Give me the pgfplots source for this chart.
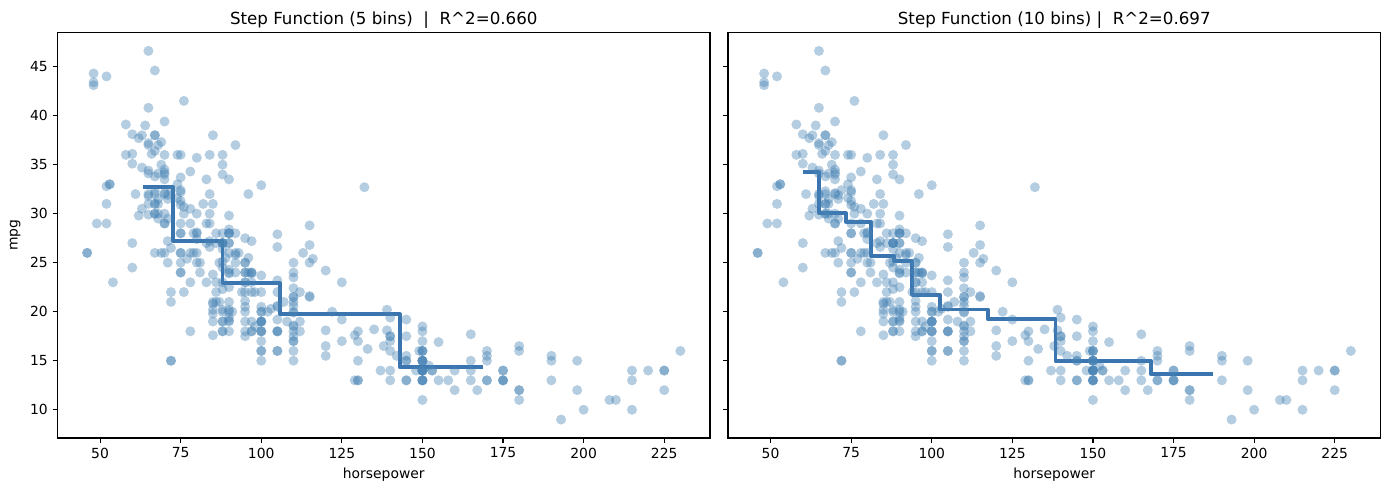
\documentclass[border=0pt]{standalone}
\usepackage{fontspec}
\setmainfont{DejaVu Sans}
\usepackage{pgfplots}
\usepackage{pgfplotstable}
\pgfplotsset{compat=1.18}
\definecolor{ptc}{RGB}{70,130,180}
\definecolor{lnc}{RGB}{58,117,175}

\pgfplotstableread[row sep=\\]{
hp mpg\\
130 18\\ 165 15\\ 150 18\\ 150 16\\ 140 17\\ 198 15\\ 220 14\\ 215 14\\ 225 14\\ 190 15\\
170 15\\ 160 14\\ 150 15\\ 225 14\\ 95 24\\ 95 22\\ 97 18\\ 85 21\\ 88 27\\ 46 26\\
87 25\\ 90 24\\ 95 25\\ 113 26\\ 90 21\\ 215 10\\ 200 10\\ 210 11\\ 193 9\\ 88 27\\
90 28\\ 95 25\\ 100 19\\ 105 16\\ 100 17\\ 88 19\\ 100 18\\ 165 14\\ 175 14\\ 153 14\\
150 14\\ 180 12\\ 170 13\\ 175 13\\ 110 18\\ 72 22\\ 100 19\\ 88 18\\ 86 23\\ 90 28\\
70 30\\ 76 30\\ 65 31\\ 69 35\\ 60 27\\ 70 26\\ 95 24\\ 80 25\\ 54 23\\ 90 20\\
86 21\\ 165 13\\ 175 14\\ 150 15\\ 153 14\\ 150 17\\ 208 11\\ 155 13\\ 160 12\\ 190 13\\
97 19\\ 150 15\\ 130 13\\ 140 13\\ 150 14\\ 112 18\\ 76 22\\ 87 21\\ 69 26\\ 86 22\\
92 28\\ 97 23\\ 80 28\\ 88 27\\ 175 13\\ 150 14\\ 145 13\\ 137 14\\ 150 15\\ 198 12\\
150 13\\ 158 13\\ 150 14\\ 215 13\\ 225 12\\ 175 13\\ 105 18\\ 100 16\\ 100 18\\ 88 18\\
95 23\\ 46 26\\ 150 11\\ 167 12\\ 170 13\\ 180 12\\ 100 18\\ 88 20\\ 72 21\\ 94 22\\
90 18\\ 85 19\\ 107 21\\ 90 26\\ 145 15\\ 230 16\\ 49 29\\ 75 24\\ 91 20\\ 112 19\\
150 15\\ 110 24\\ 122 20\\ 180 11\\ 95 20\\ 100 19\\ 100 15\\ 67 31\\ 80 26\\ 65 32\\
75 25\\ 100 16\\ 110 16\\ 105 18\\ 140 16\\ 150 13\\ 150 14\\ 140 14\\ 150 14\\ 83 29\\
67 26\\ 78 26\\ 52 31\\ 61 32\\ 75 28\\ 75 24\\ 75 26\\ 97 24\\ 93 26\\ 67 31\\
95 19\\ 105 18\\ 72 15\\ 72 15\\ 170 16\\ 145 15\\ 150 16\\ 148 14\\ 110 17\\ 105 16\\
110 15\\ 95 18\\ 110 21\\ 110 20\\ 129 13\\ 75 29\\ 83 23\\ 100 20\\ 78 23\\ 96 24\\
71 25\\ 97 24\\ 97 18\\ 70 29\\ 90 19\\ 95 23\\ 88 23\\ 98 22\\ 115 25\\ 53 33\\
86 28\\ 81 25\\ 92 25\\ 79 26\\ 83 27\\ 140 17.5\\ 150 16\\ 120 15.5\\ 152 14.5\\ 100 22\\
105 22\\ 81 24\\ 90 22.5\\ 52 29\\ 60 24.5\\ 70 29\\ 53 33\\ 100 20\\ 78 18\\ 110 18.5\\
95 17.5\\ 71 29.5\\ 70 32\\ 75 28\\ 72 26.5\\ 102 20\\ 150 13\\ 88 19\\ 108 19\\ 120 16.5\\
180 16.5\\ 145 13\\ 130 13\\ 150 13\\ 68 31.5\\ 80 30\\ 58 36\\ 96 25.5\\ 70 33.5\\ 145 17.5\\
110 17\\ 145 15.5\\ 130 15\\ 110 17.5\\ 105 20.5\\ 100 19\\ 98 18.5\\ 180 16\\ 170 15.5\\ 190 15.5\\
149 16\\ 78 29\\ 88 24.5\\ 75 26\\ 89 25.5\\ 63 30.5\\ 83 33.5\\ 67 30\\ 78 30.5\\ 97 22\\
110 21.5\\ 110 21.5\\ 48 43.1\\ 66 36.1\\ 52 32.8\\ 70 39.4\\ 60 36.1\\ 110 19.9\\ 140 19.4\\ 139 20.2\\
105 19.2\\ 95 20.5\\ 85 20.2\\ 88 25.1\\ 100 20.5\\ 90 19.4\\ 105 20.6\\ 85 20.8\\ 110 18.6\\ 120 18.1\\
145 19.2\\ 165 17.7\\ 139 18.1\\ 140 17.5\\ 68 30\\ 95 27.5\\ 97 27.2\\ 75 30.9\\ 95 21.1\\ 105 23.2\\
85 23.8\\ 97 23.9\\ 103 20.3\\ 125 17\\ 115 21.6\\ 133 16.2\\ 71 31.5\\ 68 29.5\\ 115 21.5\\ 85 19.8\\
88 22.3\\ 90 20.2\\ 110 20.6\\ 130 17\\ 129 17.6\\ 138 16.5\\ 135 18.2\\ 155 16.9\\ 142 15.5\\ 125 19.2\\
150 18.5\\ 71 31.9\\ 65 34.1\\ 80 35.7\\ 80 27.4\\ 77 25.4\\ 125 23\\ 71 27.2\\ 90 23.9\\ 70 34.2\\
70 34.5\\ 65 31.8\\ 69 37.3\\ 90 28.4\\ 115 28.8\\ 115 26.8\\ 90 33.5\\ 76 41.5\\ 60 38.1\\ 70 32.1\\
65 37.2\\ 90 28\\ 88 26.4\\ 90 24.3\\ 90 19.1\\ 78 34.3\\ 90 29.8\\ 75 31.3\\ 92 37\\ 75 32.2\\
65 46.6\\ 105 27.9\\ 65 40.8\\ 48 44.3\\ 48 43.4\\ 67 36.4\\ 67 30\\ 67 44.6\\ 67 33.8\\ 62 29.8\\
132 32.7\\ 100 23.7\\ 88 35\\ 72 32.4\\ 84 27.2\\ 84 26.6\\ 92 25.8\\ 110 23.5\\ 84 30\\ 58 39.1\\
64 39\\ 60 35.1\\ 67 32.3\\ 65 37\\ 62 37.7\\ 68 34.1\\ 63 34.7\\ 65 34.4\\ 65 29.9\\ 74 33\\
75 33.7\\ 75 32.4\\ 100 32.9\\ 74 31.6\\ 80 28.1\\ 76 30.7\\ 116 25.4\\ 120 24.2\\ 110 22.4\\ 105 26.6\\
88 20.2\\ 85 17.6\\ 88 28\\ 88 27\\ 88 34\\ 85 31\\ 84 29\\ 90 27\\ 92 24\\ 74 36\\
68 37\\ 68 31\\ 63 38\\ 70 36\\ 88 36\\ 75 36\\ 70 34\\ 67 38\\ 67 32\\ 67 38\\
110 25\\ 85 38\\ 92 26\\ 112 22\\ 96 32\\ 84 36\\ 90 27\\ 86 27\\ 52 44\\ 84 32\\
79 28\\ 82 31\\
}\autodata

\pgfplotsset{
  myaxis/.style={
    scale only axis, width=469.8pt, height=291.96pt,
    xmin=36.8, xmax=239.2, ymin=7.12, ymax=48.48,
    xtick={50,75,100,125,150,175,200,225},
    ytick={10,15,20,25,30,35,40,45},
    tick align=outside, xtick pos=left, ytick pos=left,
    major tick length=3.5pt,
    every tick/.style={black, line width=0.8pt},
    axis line style={black, line width=0.8pt},
    /pgf/number format/assume math mode=true,
    tick label style={font=\fontsize{10}{12}\selectfont},
    label style={font=\fontsize{10}{12}\selectfont},
    title style={font=\fontsize{12}{14.4}\selectfont, at={(0.5,1)}, anchor=base},
    clip=true,
  },
  pts/.style={only marks, mark=*, mark size=3.6pt, color=ptc,
    mark options={draw=ptc, fill=ptc, draw opacity=0, fill opacity=0.4}},
  stp/.style={const plot, color=lnc, line width=2.7pt, line join=round},
}

\begin{document}
\begin{tikzpicture}
\useasboundingbox (0,0) rectangle (1000.08pt,352.8pt);
\begin{axis}[myaxis, at={(41.4pt,37.44pt)}, anchor=south west,
  title={Step Function (5 bins)\ \ |\ \ R\textasciicircum 2=0.660},
  xlabel={horsepower}, ylabel={mpg}]
\addplot[pts] table[x=hp, y=mpg] {\autodata};
\addplot[stp] coordinates {(63.4,32.69) (72.7,27.21) (88.0,22.90) (105.8,19.74) (143.0,14.33) (168.9,14.33)};
\end{axis}
\begin{axis}[myaxis, at={(524.16pt,37.44pt)}, anchor=south west,
  title={Step Function (10 bins)\ |\ \ R\textasciicircum 2=0.697},
  xlabel={horsepower}, yticklabels={}]
\addplot[pts] table[x=hp, y=mpg] {\autodata};
\addplot[stp] coordinates {(60.2,34.28) (65.1,30.04) (73.4,29.18) (81.2,25.68) (88.4,25.17) (93.9,21.71) (102.6,20.23) (117.4,19.23) (138.4,14.99) (168.0,13.62) (187.1,13.62)};
\end{axis}
\end{tikzpicture}
\end{document}
